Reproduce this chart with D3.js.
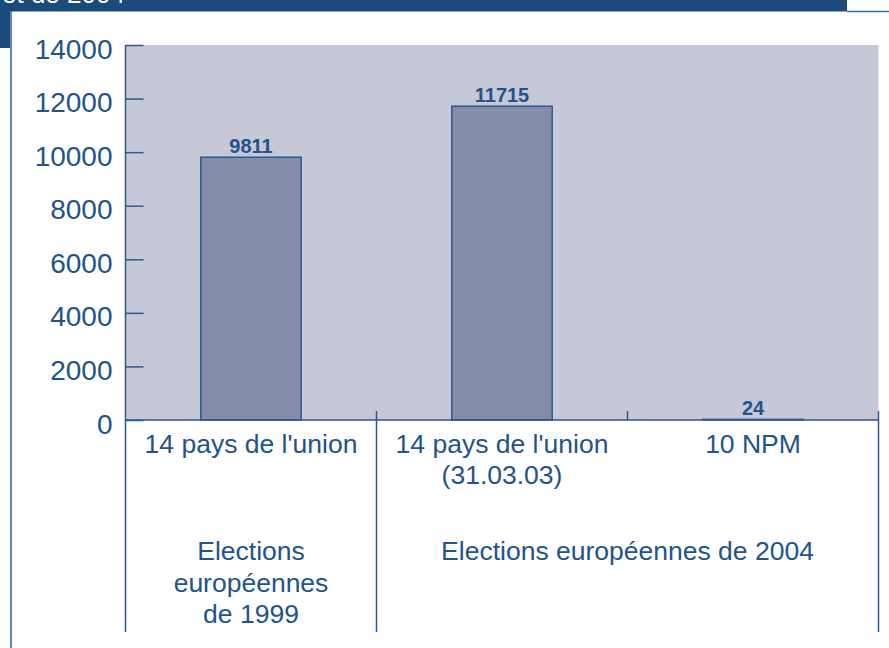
<!DOCTYPE html>
<html>
<head>
<meta charset="utf-8">
<script src="https://cdn.jsdelivr.net/npm/d3@7"></script>
<style>
  html, body { margin: 0; padding: 0; background: #fff; }
  svg { display: block; }
  text { font-family: "Liberation Sans", Arial, Helvetica, sans-serif; }
</style>
</head>
<body>
<svg id="chart" width="889" height="648"></svg>
<script>
const headerText = "et de 2004";
const categories = ["14 pays de l'union", "14 pays de l'union|(31.03.03)", "10 NPM"];
const values = [9811, 11715, 24];
const valueLabels = ["9811", "11715", "24"];
const yTicks = [0, 2000, 4000, 6000, 8000, 10000, 12000, 14000];
const groupLabels = [["Elections", "européennes", "de 1999"], ["Elections européennes de 2004"]];
const groupStart = [0, 1];
const groupEnd = [0, 2];

(function () {
const textColor = "#22538a";
const lineColor = "#2a5a92";
const svg = d3.select("#chart");

// header band
svg.append("rect").attr("x", 0).attr("y", 0).attr("width", 847).attr("height", 11.5).attr("fill", "#1b4a7c");
svg.append("rect").attr("x", 0).attr("y", 0).attr("width", 10).attr("height", 48).attr("fill", "#1b4a7c");
svg.append("text").attr("x", 2).attr("y", 3).attr("fill", "#fff").attr("font-size", 26).text(headerText);
svg.append("line").attr("x1", 847).attr("x2", 889).attr("y1", 11.5).attr("y2", 11.5).attr("stroke", "#3d6ba3").attr("stroke-width", 1.5);
svg.append("line").attr("x1", 11).attr("x2", 11).attr("y1", 11).attr("y2", 648).attr("stroke", "#2d64a8").attr("stroke-width", 1.5);

const pl = 125.5, pr = 878.5, pt = 45, pb = 420;
const y = d3.scaleLinear().domain([0, 14000]).range([pb, pt]);
const x = d3.scaleBand().domain(categories).range([pl, pr]).paddingInner(0).paddingOuter(0);

// plot background
svg.append("rect").attr("x", pl).attr("y", pt).attr("width", pr - pl).attr("height", pb - pt).attr("fill", "#c6c8d8");

// bars
const bw = x.bandwidth() * 0.4;
svg.selectAll("rect.bar").data(categories).join("rect")
  .attr("class", "bar")
  .attr("x", d => x(d) + (x.bandwidth() - bw) / 2)
  .attr("width", bw)
  .attr("y", (d, i) => y(values[i]))
  .attr("height", (d, i) => y(0) - y(values[i]))
  .attr("fill", "#858caa")
  .attr("stroke", lineColor)
  .attr("stroke-width", 1.5);

// value labels
svg.selectAll("text.val").data(categories).join("text")
  .attr("class", "val")
  .attr("x", d => x(d) + x.bandwidth() / 2)
  .attr("y", (d, i) => y(values[i]) - 4)
  .attr("text-anchor", "middle")
  .attr("font-size", 20)
  .attr("font-weight", "bold")
  .attr("fill", textColor)
  .text((d, i) => valueLabels[i]);

// y axis
const yAxis = d3.axisLeft(y).tickValues(yTicks).tickSize(-18).tickPadding(13).tickFormat(d3.format("d"));
const ga = svg.append("g").attr("transform", `translate(${pl},0)`).call(yAxis);
ga.select(".domain").remove();
ga.selectAll(".tick line").attr("stroke", lineColor).attr("stroke-width", 1.5);
ga.selectAll(".tick text").attr("fill", textColor).attr("font-size", 28).attr("dy", null).attr("y", 13)
  .style("font-family", '"Liberation Sans", Arial, sans-serif');

// axis lines
svg.append("line").attr("x1", pl).attr("x2", pl).attr("y1", pt).attr("y2", 632).attr("stroke", lineColor).attr("stroke-width", 1.5);
svg.append("line").attr("x1", pl).attr("x2", pr).attr("y1", pb).attr("y2", pb).attr("stroke", lineColor).attr("stroke-width", 1.5);

// category boundaries
categories.forEach((c, i) => {
  if (i === 0) return;
  const xb = x(c);
  const isGroupEdge = groupStart.includes(i);
  svg.append("line").attr("x1", xb).attr("x2", xb).attr("y1", 411).attr("y2", isGroupEdge ? 632 : pb)
    .attr("stroke", lineColor).attr("stroke-width", 1.5);
});
svg.append("line").attr("x1", pr).attr("x2", pr).attr("y1", 411).attr("y2", 632).attr("stroke", lineColor).attr("stroke-width", 1.5);

// category labels
categories.forEach(c => {
  const lines = c.split("|");
  const t = svg.append("text").attr("x", x(c) + x.bandwidth() / 2).attr("y", 453)
    .attr("text-anchor", "middle").attr("font-size", 26.5).attr("fill", textColor);
  lines.forEach((ln, j) => {
    t.append("tspan").attr("x", x(c) + x.bandwidth() / 2).attr("dy", j === 0 ? 0 : 31).text(ln);
  });
});

// group labels
groupLabels.forEach((lines, g) => {
  const x0 = x(categories[groupStart[g]]);
  const x1 = x(categories[groupEnd[g]]) + x.bandwidth();
  const cx = (x0 + x1) / 2;
  const t = svg.append("text").attr("x", cx).attr("y", 560)
    .attr("text-anchor", "middle").attr("font-size", 26.5).attr("fill", textColor);
  lines.forEach((ln, j) => {
    t.append("tspan").attr("x", cx).attr("dy", j === 0 ? 0 : 31.5).text(ln);
  });
});
})();
</script>
</body>
</html>
